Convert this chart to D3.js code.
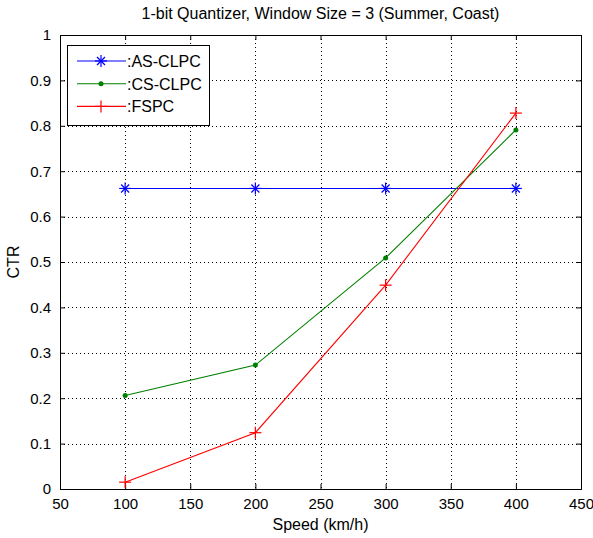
<!DOCTYPE html>
<html>
<head>
<meta charset="utf-8">
<script src="https://cdn.jsdelivr.net/npm/d3@7"></script>
<style>
  body { margin: 0; background: #fff; }
  svg text { font-family: "Liberation Sans Narrow", "Arial Narrow", "Liberation Sans", Arial, sans-serif; fill: #000; }
</style>
</head>
<body>
<svg width="593" height="538"></svg>
<script>
var speeds = [100, 200, 300, 400];
var asClpc = [0.662, 0.662, 0.662, 0.662];
var csClpc = [0.206, 0.273, 0.509, 0.791];
var fspc = [0.015, 0.124, 0.449, 0.828];
var xTicks = [50, 100, 150, 200, 250, 300, 350, 400, 450];
var yTicks = [0, 0.1, 0.2, 0.3, 0.4, 0.5, 0.6, 0.7, 0.8, 0.9, 1];
var seriesNames = [":AS-CLPC", ":CS-CLPC", ":FSPC"];

var svg = d3.select("svg");
var plotL = 60, plotR = 581, plotT = 35, plotB = 489;

var x = d3.scaleLinear().domain([50, 450]).range([plotL, plotR]);
var y = d3.scaleLinear().domain([0, 1]).range([plotB, plotT]);

// grid
var grid = svg.append("g").attr("stroke", "#000").attr("stroke-width", 1)
  .attr("stroke-dasharray", "1,3");
grid.selectAll(".gx").data(xTicks.slice(1, -1)).enter().append("line")
  .attr("x1", d => Math.round(x(d)) + 0.5).attr("x2", d => Math.round(x(d)) + 0.5)
  .attr("y1", plotT).attr("y2", plotB);
grid.selectAll(".gy").data(yTicks.slice(1, -1)).enter().append("line")
  .attr("y1", d => Math.round(y(d)) + 0.5).attr("y2", d => Math.round(y(d)) + 0.5)
  .attr("x1", plotL).attr("x2", plotR);

// axes (ticks inward)
var tickLen = 5;
svg.append("g").attr("transform", "translate(0," + plotB + ")")
  .call(d3.axisBottom(x).tickValues(xTicks).tickSize(-tickLen).tickPadding(tickLen + 4).tickFormat(d3.format("d")));
svg.append("g").attr("transform", "translate(0," + plotT + ")")
  .call(d3.axisTop(x).tickValues(xTicks).tickSize(-tickLen).tickFormat(""));
svg.append("g").attr("transform", "translate(" + plotL + ",0)")
  .call(d3.axisLeft(y).tickValues(yTicks).tickSize(-tickLen).tickPadding(tickLen + 4).tickFormat(d => d === 0 || d === 1 ? d : d3.format(".1f")(d)));
svg.append("g").attr("transform", "translate(" + plotR + ",0)")
  .call(d3.axisRight(y).tickValues(yTicks).tickSize(-tickLen).tickFormat(""));
svg.selectAll(".tick text").style("font-size", "15px");
svg.selectAll(".domain").attr("stroke", "#000");
svg.selectAll(".tick line").attr("stroke", "#000");

// series
var series = [
  { name: seriesNames[0], values: asClpc, color: "#0000ff", marker: "star" },
  { name: seriesNames[1], values: csClpc, color: "#008000", marker: "dot" },
  { name: seriesNames[2], values: fspc, color: "#ff0000", marker: "plus" }
];

function drawMarker(g, type, color) {
  if (type === "plus" || type === "star") {
    g.append("line").attr("x1", -6).attr("x2", 6).attr("y1", 0).attr("y2", 0);
    g.append("line").attr("x1", 0).attr("x2", 0).attr("y1", -6).attr("y2", 6);
  }
  if (type === "star") {
    g.append("line").attr("x1", -4).attr("x2", 4).attr("y1", -4).attr("y2", 4);
    g.append("line").attr("x1", -4).attr("x2", 4).attr("y1", 4).attr("y2", -4);
  }
  if (type === "dot") {
    g.append("circle").attr("r", 2.5).attr("fill", color).attr("stroke", "none");
  }
  g.selectAll("line").attr("stroke", color).attr("stroke-width", 1.2);
}

var line = d3.line().x(d => x(d[0])).y(d => y(d[1]));
series.forEach(function(s) {
  var pts = speeds.map((v, i) => [v, s.values[i]]);
  svg.append("path").datum(pts).attr("d", line)
    .attr("fill", "none").attr("stroke", s.color).attr("stroke-width", 1.1);
  pts.forEach(function(p) {
    var g = svg.append("g").attr("transform", "translate(" + x(p[0]) + "," + y(p[1]) + ")");
    drawMarker(g, s.marker, s.color);
  });
});

// legend
var lg = svg.append("g");
lg.append("rect").attr("x", 67.5).attr("y", 45.5).attr("width", 142).attr("height", 80)
  .attr("fill", "#fff").attr("stroke", "#000");
series.forEach(function(s, i) {
  var ly = 61 + i * 22.7;
  lg.append("line").attr("x1", 77).attr("x2", 126).attr("y1", ly).attr("y2", ly)
    .attr("stroke", s.color).attr("stroke-width", 1.1);
  var g = lg.append("g").attr("transform", "translate(101," + ly + ")");
  drawMarker(g, s.marker, s.color);
  lg.append("text").attr("x", 127).attr("y", ly + 6).style("font-size", "16px").text(s.name);
});

// labels
svg.append("text").attr("x", (plotL + plotR) / 2).attr("y", 19).attr("text-anchor", "middle")
  .style("font-size", "16px").text("1-bit Quantizer, Window Size = 3 (Summer, Coast)");
svg.append("text").attr("x", (plotL + plotR) / 2).attr("y", 530).attr("text-anchor", "middle")
  .style("font-size", "16px").text("Speed (km/h)");
svg.append("text").attr("transform", "translate(19," + ((plotT + plotB) / 2) + ") rotate(-90)")
  .attr("text-anchor", "middle").style("font-size", "16px").text("CTR");
</script>
</body>
</html>
